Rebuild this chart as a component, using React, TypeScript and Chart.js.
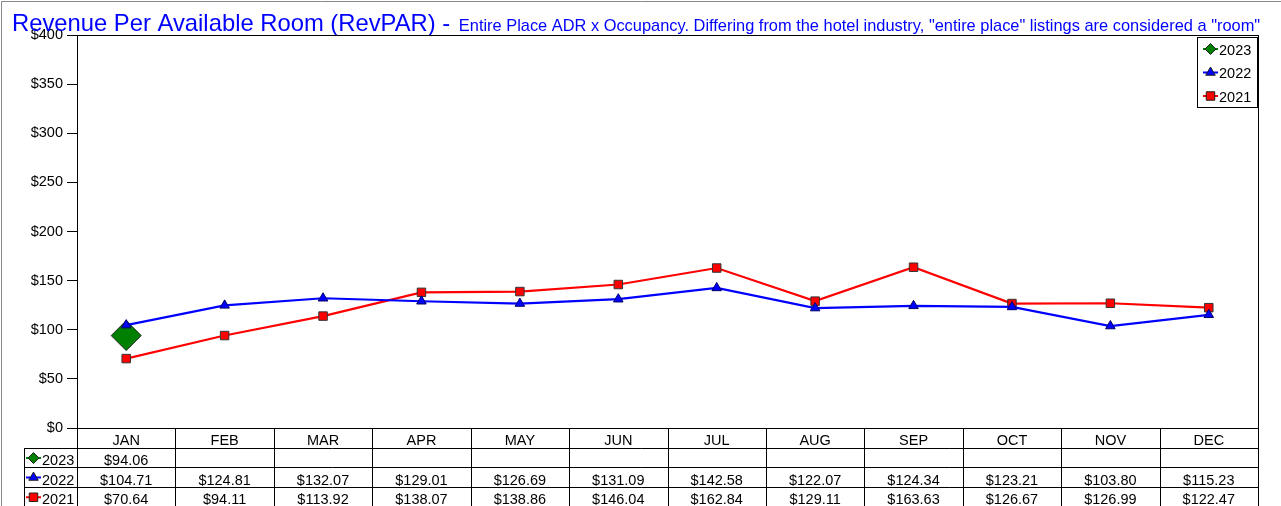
import React, { useEffect, useRef } from "react";
import { Chart, registerables } from "chart.js";

Chart.register(...registerables);

const months = ["JAN", "FEB", "MAR", "APR", "MAY", "JUN", "JUL", "AUG", "SEP", "OCT", "NOV", "DEC"];
const rev2023: (number | null)[] = [94.06, null, null, null, null, null, null, null, null, null, null, null];
const rev2022: (number | null)[] = [104.71, 124.81, 132.07, 129.01, 126.69, 131.09, 142.58, 122.07, 124.34, 123.21, 103.8, 115.23];
const rev2021: (number | null)[] = [70.64, 94.11, 113.92, 138.07, 138.86, 146.04, 162.84, 129.11, 163.63, 126.67, 126.99, 122.47];
const seriesLabels = ["2023", "2022", "2021"];
const yMin = 0;
const yMax = 400;
const yStep = 50;
const titleMain = "Revenue Per Available Room (RevPAR) -";
const titleSub = 'Entire Place ADR x Occupancy. Differing from the hotel industry, "entire place" listings are considered a "room"';

const FONT = '"Liberation Sans", Arial, sans-serif';
const styles = [
  { color: "#008000", shape: "diamond" },
  { color: "#0000FF", shape: "triangle" },
  { color: "#FF0000", shape: "square" },
];
const seriesData = [rev2023, rev2022, rev2021];

function drawMarker(ctx: CanvasRenderingContext2D, shape: string, x: number, y: number, r: number, fill: string) {
  ctx.save();
  ctx.beginPath();
  if (shape === "diamond") {
    ctx.moveTo(x - r, y);
    ctx.lineTo(x, y - r);
    ctx.lineTo(x + r, y);
    ctx.lineTo(x, y + r);
    ctx.closePath();
  } else if (shape === "triangle") {
    ctx.moveTo(x, y - r);
    ctx.lineTo(x + r * 0.866, y + r * 0.5);
    ctx.lineTo(x - r * 0.866, y + r * 0.5);
    ctx.closePath();
  } else {
    const s = r * Math.SQRT1_2;
    ctx.rect(x - s, y - s, 2 * s, 2 * s);
  }
  ctx.fillStyle = fill;
  ctx.fill();
  ctx.lineWidth = 1;
  ctx.strokeStyle = "#222";
  ctx.stroke();
  ctx.restore();
}

function legendIcon(ctx: CanvasRenderingContext2D, i: number, x0: number, x1: number, y: number) {
  ctx.save();
  ctx.strokeStyle = styles[i].color;
  ctx.lineWidth = 2;
  ctx.beginPath();
  ctx.moveTo(x0, y);
  ctx.lineTo(x1, y);
  ctx.stroke();
  ctx.restore();
  const r = styles[i].shape === "square" ? 6 : 5.5;
  drawMarker(ctx, styles[i].shape, (x0 + x1) / 2, y, r, styles[i].color);
}

const overlayPlugin = {
  id: "overlay",
  afterDraw(chart: any) {
    const ctx: CanvasRenderingContext2D = chart.ctx;
    const area = chart.chartArea;
    const xs = chart.scales.x;
    ctx.save();

    // outer border
    ctx.strokeStyle = "#888";
    ctx.lineWidth = 1;
    ctx.beginPath();
    ctx.moveTo(1.5, 1.5);
    ctx.lineTo(1281, 1.5);
    ctx.moveTo(1.5, 1.5);
    ctx.lineTo(1.5, 506);
    ctx.stroke();

    // title
    ctx.fillStyle = "#0000FF";
    ctx.textBaseline = "alphabetic";
    ctx.textAlign = "left";
    ctx.font = `23.8px ${FONT}`;
    ctx.fillText(titleMain, 12, 31);
    const w = ctx.measureText(titleMain + " ").width;
    ctx.font = `16.4px ${FONT}`;
    ctx.fillText(titleSub, 12 + w + 2, 31);

    // plot border
    const L = Math.round(area.left) + 0.5;
    const R = Math.round(area.right) + 0.5;
    const T = Math.round(area.top) + 0.5;
    const B = Math.round(area.bottom) + 0.5;
    ctx.strokeStyle = "#000";
    ctx.lineWidth = 1;
    ctx.strokeRect(L, T, R - L, B - T);

    // data table
    const rowLines = [B, 448.5, 467.5, 487.5, 507];
    const baselines = [445, 465, 484.5, 504];
    const n = months.length;
    const colW = (area.right - area.left) / n;
    ctx.beginPath();
    for (let k = 1; k < rowLines.length - 1; k++) {
      ctx.moveTo(24, rowLines[k]);
      ctx.lineTo(R, rowLines[k]);
    }
    ctx.moveTo(24.5, 448.5);
    ctx.lineTo(24.5, 506);
    for (let i = 0; i <= n; i++) {
      const x = Math.round(area.left + i * colW) + 0.5;
      ctx.moveTo(x, B);
      ctx.lineTo(x, 506);
    }
    ctx.stroke();

    ctx.fillStyle = "#000";
    ctx.font = `14.5px ${FONT}`;
    ctx.textAlign = "center";
    for (let i = 0; i < n; i++) {
      const cx = xs.getPixelForValue(i);
      ctx.fillText(months[i], cx, baselines[0]);
      for (let s = 0; s < seriesData.length; s++) {
        const v = seriesData[s][i];
        if (v !== null && v !== undefined) {
          ctx.fillText("$" + v.toFixed(2), cx, baselines[s + 1]);
        }
      }
    }
    for (let s = 0; s < seriesLabels.length; s++) {
      const yc = (rowLines[s + 1] + rowLines[s + 2]) / 2;
      legendIcon(ctx, s, 26, 41, yc);
      ctx.fillStyle = "#000";
      ctx.textAlign = "left";
      ctx.font = `14.5px ${FONT}`;
      ctx.fillText(seriesLabels[s], 42, baselines[s + 1]);
    }

    // legend box
    ctx.fillStyle = "#fff";
    ctx.fillRect(1197.5, 37.5, 60, 70);
    ctx.strokeStyle = "#000";
    ctx.strokeRect(1197.5, 37.5, 60, 70);
    const ly = [49, 72.5, 96];
    for (let s = 0; s < seriesLabels.length; s++) {
      legendIcon(ctx, s, 1203, 1218, ly[s]);
      ctx.fillStyle = "#000";
      ctx.textAlign = "left";
      ctx.font = `14.5px ${FONT}`;
      ctx.fillText(seriesLabels[s], 1219, ly[s] + 5.5);
    }
    ctx.restore();
  },
};

export default function App() {
  const ref = useRef<HTMLCanvasElement | null>(null);
  useEffect(() => {
    document.body.style.margin = "0";
    document.body.style.overflow = "hidden";
    const canvas = ref.current;
    if (!canvas) return;
    const chart = new Chart(canvas, {
      type: "line",
      data: {
        labels: months,
        datasets: [
          {
            label: seriesLabels[0],
            data: rev2023,
            borderColor: styles[0].color,
            backgroundColor: styles[0].color,
            pointStyle: "rectRot",
            pointRadius: 15,
            pointBorderColor: "#222",
            pointBorderWidth: 1,
            borderWidth: 2,
            order: 1,
          },
          {
            label: seriesLabels[1],
            data: rev2022,
            borderColor: styles[1].color,
            backgroundColor: styles[1].color,
            pointStyle: "triangle",
            pointRadius: 5.5,
            pointBorderColor: "#000066",
            pointBorderWidth: 1,
            borderWidth: 2.2,
            order: 0,
          },
          {
            label: seriesLabels[2],
            data: rev2021,
            borderColor: styles[2].color,
            backgroundColor: styles[2].color,
            pointStyle: "rect",
            pointRadius: 6,
            pointBorderColor: "#333",
            pointBorderWidth: 1,
            borderWidth: 2.2,
            order: 2,
          },
        ],
      },
      options: {
        responsive: false,
        animation: false,
        layout: { padding: { left: 0, top: 35, right: 23, bottom: 78 } },
        plugins: {
          legend: { display: false },
          title: { display: false },
          tooltip: { enabled: false },
        },
        elements: { line: { tension: 0 } },
        scales: {
          x: {
            type: "category",
            display: false,
            offset: true,
          },
          y: {
            min: yMin,
            max: yMax,
            afterFit(scale: any) {
              scale.width = 77;
            },
            border: { display: true, color: "#000", width: 1 },
            grid: { drawOnChartArea: false, drawTicks: true, tickLength: 10, color: "#000" },
            ticks: {
              stepSize: yStep,
              padding: 4,
              color: "#000",
              font: { family: FONT, size: 14.5 },
              callback: (v: any) => "$" + v,
            },
          },
        },
      },
      plugins: [overlayPlugin],
    } as any);
    return () => chart.destroy();
  }, []);
  return <canvas ref={ref} width={1281} height={506} style={{ display: "block", width: 1281, height: 506 }} />;
}
